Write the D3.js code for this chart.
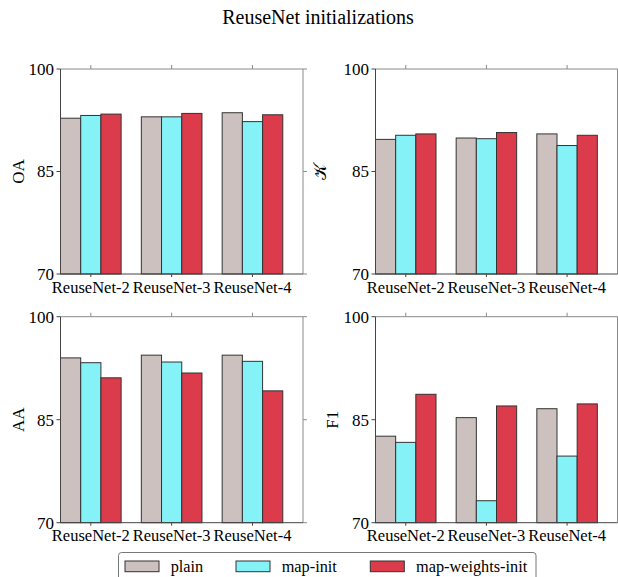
<!DOCTYPE html>
<html><head><meta charset="utf-8">
<script src="https://cdn.jsdelivr.net/npm/d3@7"></script>
<style>body{margin:0;background:#fff}svg{display:block}</style>
</head><body><svg id="c" width="618" height="577"></svg>
<script>
const categories = ["ReuseNet-2","ReuseNet-3","ReuseNet-4"];
const seriesNames = ["plain","map-init","map-weights-init"];
const seriesColors = ["#cdc1c0","#85f2f8","#dc3b4b"];
const yTicks = [70,85,100];
const metricNames = ["OA","𝒦","AA","F1"];
const oaValues  = [[92.8,93.0,93.6],[93.2,93.0,92.3],[93.4,93.5,93.3]];
const kValues   = [[89.7,89.9,90.5],[90.3,89.8,88.8],[90.5,90.7,90.3]];
const aaValues  = [[94.0,94.4,94.4],[93.3,93.4,93.5],[91.1,91.8,89.2]];
const f1Values  = [[82.6,85.3,86.6],[81.7,73.2,79.7],[88.7,87.0,87.3]];
const panelValues = [oaValues,kValues,aaValues,f1Values];

const FONT = "Liberation Serif";
const svg = d3.select("#c");
svg.append("text").attr("x",318).attr("y",24).attr("text-anchor","middle").attr("font-family",FONT).attr("font-size",20).text("ReuseNet initializations");

const panels = [
  {x0:60.5,x1:303,y0:69,y1:274,lx:18},
  {x0:375.5,x1:617.5,y0:69,y1:274,lx:320},
  {x0:60.5,x1:303,y0:316.7,y1:522.7,lx:18},
  {x0:375.5,x1:617.5,y0:316.7,y1:522.7,lx:332}
];
const barW = 0.25;
panels.forEach((p,pi)=>{
  const g = svg.append("g");
  const x = d3.scaleLinear().domain([0,3]).range([p.x0,p.x1]);
  const y = d3.scaleLinear().domain([70,100]).range([p.y1,p.y0]);
  const vals = panelValues[pi];
  vals.forEach((sv,si)=>{
    g.selectAll(null).data(sv).enter().append("rect")
      .attr("x",(d,i)=>x(i+si*barW))
      .attr("width",x(barW)-x(0))
      .attr("y",d=>y(d))
      .attr("height",d=>y(70)-y(d))
      .attr("fill",seriesColors[si]).attr("stroke","#333").attr("stroke-width",1);
  });
  g.append("line").attr("x1",p.x0).attr("x2",p.x1).attr("y1",p.y0).attr("y2",p.y0).attr("stroke","#8a8a8a");
  g.append("line").attr("x1",p.x1).attr("x2",p.x1).attr("y1",p.y0).attr("y2",p.y1).attr("stroke","#8a8a8a");
  g.append("line").attr("x1",p.x0).attr("x2",p.x0).attr("y1",p.y0).attr("y2",p.y1).attr("stroke","#444");
  g.append("line").attr("x1",p.x0).attr("x2",p.x1).attr("y1",p.y1).attr("y2",p.y1).attr("stroke","#444");
  categories.forEach((c,i)=>{
    const tx = x(i+1.5*barW);
    g.append("line").attr("x1",tx).attr("x2",tx).attr("y1",p.y0).attr("y2",p.y0-4).attr("stroke","#8a8a8a");
    g.append("line").attr("x1",tx).attr("x2",tx).attr("y1",p.y1).attr("y2",p.y1+3).attr("stroke","#444");
    g.append("text").attr("x",tx).attr("y",p.y1+18.5).attr("text-anchor","middle").attr("font-family",FONT).attr("font-size",16.5).text(c);
  });
  yTicks.forEach(t=>{
    g.append("line").attr("x1",p.x0).attr("x2",p.x0-4).attr("y1",y(t)).attr("y2",y(t)).attr("stroke","#444");
    g.append("line").attr("x1",p.x1).attr("x2",p.x1+4).attr("y1",y(t)).attr("y2",y(t)).attr("stroke","#8a8a8a");
    g.append("text").attr("x",p.x0-6.5).attr("y",y(t)).attr("dy","0.35em").attr("text-anchor","end").attr("font-family",FONT).attr("font-size",17).text(t);
  });
  const cy = (p.y0+p.y1)/2;
  g.append("text").attr("transform",`translate(${p.lx},${cy}) rotate(-90)`).attr("text-anchor","middle").attr("dy","0.35em").attr("font-family",FONT).attr("font-size",17).text(metricNames[pi]);
});

const lg = svg.append("g");
lg.append("rect").attr("x",118.5).attr("y",552.5).attr("width",417.5).attr("height",40).attr("rx",3).attr("fill","#fff").attr("stroke","#777");
const legX = [125,236,370.3];
seriesNames.forEach((s,i)=>{
  lg.append("rect").attr("x",legX[i]).attr("y",561).attr("width",34).attr("height",10.7).attr("fill",seriesColors[i]).attr("stroke","#333");
  lg.append("text").attr("x",legX[i]+45.7).attr("y",566.3).attr("dy","0.35em").attr("font-family",FONT).attr("font-size",16.3).text(s);
});
</script></body></html>
